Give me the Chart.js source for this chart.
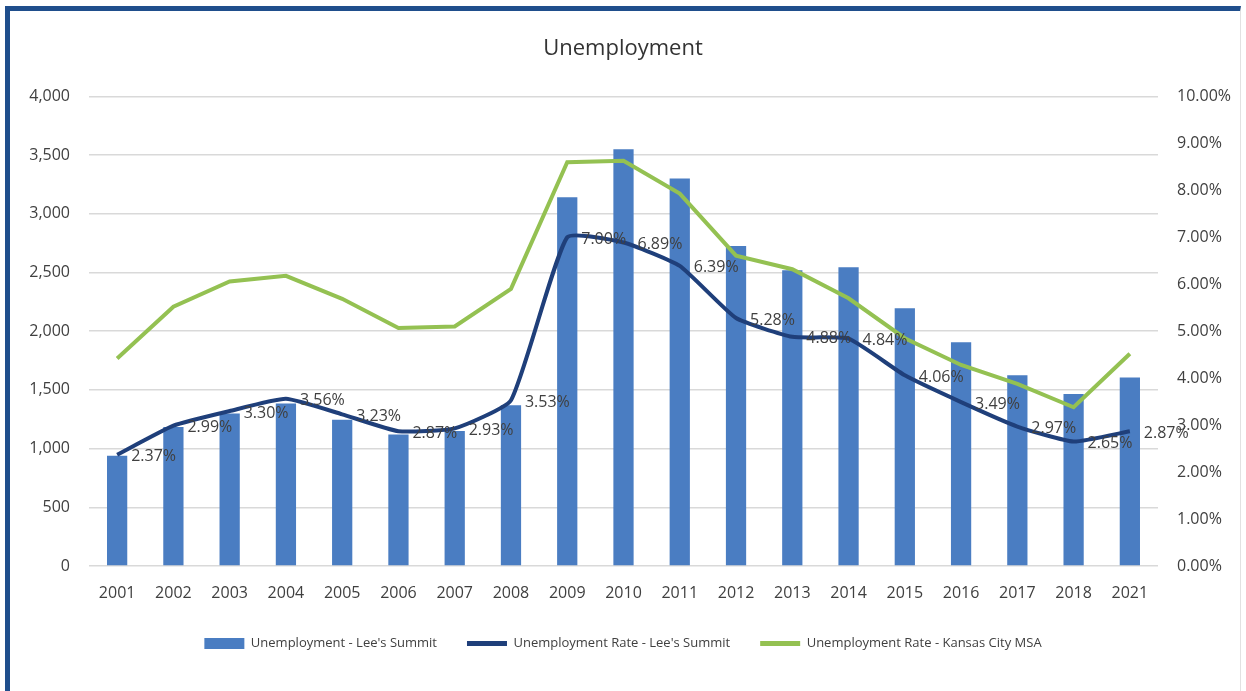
<!DOCTYPE html>
<html>
<head>
<meta charset="utf-8">
<script src="https://cdn.jsdelivr.net/npm/chart.js@4.4.0/dist/chart.umd.min.js"></script>
<style>
  html, body { margin: 0; padding: 0; background: #fff; }
  #wrap { position: relative; width: 1246px; height: 691px; overflow: hidden; }
  #frame { position: absolute; left: 5px; top: 6px; width: 1230px; height: 700px;
           border-top: 5px solid #1f4e8c; border-left: 5px solid #1f4e8c; border-right: 1px solid #e2e2e2;
           pointer-events: none; }
  canvas { position: absolute; left: 0; top: 0; }
</style>
</head>
<body>
<div id="wrap">
  <canvas id="chart" width="1246" height="691"></canvas>
  <div id="frame"></div>
</div>
<script>
const years = ['2001','2002','2003','2004','2005','2006','2007','2008','2009','2010',
               '2011','2012','2013','2014','2015','2016','2017','2018','2021'];
const unemployedLS = [940, 1185, 1300, 1385, 1245, 1120, 1150, 1370, 3140, 3550,
                      3300, 2725, 2520, 2545, 2195, 1905, 1625, 1465, 1605];
const rateLS = [2.37, 2.99, 3.30, 3.56, 3.23, 2.87, 2.93, 3.53, 7.00, 6.89,
                6.39, 5.28, 4.88, 4.84, 4.06, 3.49, 2.97, 2.65, 2.87];
const rateKC = [4.42, 5.52, 6.06, 6.18, 5.69, 5.07, 5.10, 5.90, 8.60, 8.63,
                7.93, 6.61, 6.32, 5.70, 4.85, 4.28, 3.88, 3.38, 4.52];
const leftTicks = [0, 500, 1000, 1500, 2000, 2500, 3000, 3500, 4000];
const rightTicks = [0, 1, 2, 3, 4, 5, 6, 7, 8, 9, 10];

const FONT = "'Open Sans', 'Noto Sans', sans-serif";
const TEXT = '#404040';

// draws the % labels beside the Lee's Summit rate line
const rateLabels = {
  id: 'rateLabels',
  afterDatasetsDraw(chart) {
    const meta = chart.getDatasetMeta(1);
    const ctx = chart.ctx;
    ctx.save();
    ctx.font = '16px ' + FONT;
    ctx.fillStyle = TEXT;
    ctx.textAlign = 'left';
    ctx.textBaseline = 'middle';
    meta.data.forEach((pt, i) => {
      ctx.fillText(rateLS[i].toFixed(2) + '%', pt.x + 14, pt.y + 2);
    });
    ctx.restore();
  }
};

new Chart(document.getElementById('chart'), {
  type: 'bar',
  data: {
    labels: years,
    datasets: [
      {
        type: 'bar',
        label: "Unemployment - Lee's Summit",
        data: unemployedLS,
        backgroundColor: '#4a7dc2',
        yAxisID: 'y',
        order: 3,
        categoryPercentage: 1,
        barPercentage: 0.36
      },
      {
        type: 'line',
        label: "Unemployment Rate - Lee's Summit",
        data: rateLS,
        borderColor: '#1f3f7a',
        backgroundColor: '#1f3f7a',
        borderWidth: 4,
        pointRadius: 0,
        tension: 0.15,
        yAxisID: 'y1',
        order: 1
      },
      {
        type: 'line',
        label: 'Unemployment Rate - Kansas City MSA',
        data: rateKC,
        borderColor: '#94c152',
        backgroundColor: '#94c152',
        borderWidth: 4,
        pointRadius: 0,
        tension: 0,
        yAxisID: 'y1',
        order: 2
      }
    ]
  },
  options: {
    responsive: false,
    animation: false,
    layout: { padding: { top: 18, bottom: 31, left: 0, right: 0 } },
    plugins: {
      title: {
        display: true,
        text: 'Unemployment',
        color: '#333',
        font: { family: FONT, size: 22, weight: 'normal' },
        padding: { top: 18, bottom: 34 }
      },
      legend: {
        position: 'bottom',
        labels: {
          color: TEXT,
          font: { family: FONT, size: 13 },
          usePointStyle: true,
          boxWidth: 40,
          boxHeight: 11,
          pointStyleWidth: 40,
          padding: 30,
          sort: (a, b) => a.datasetIndex - b.datasetIndex,
          generateLabels(chart) {
            return chart.data.datasets.map((ds, i) => ({
              text: ds.label,
              datasetIndex: i,
              fillStyle: ds.backgroundColor,
              strokeStyle: ds.type === 'bar' ? ds.backgroundColor : ds.borderColor,
              lineWidth: ds.type === 'bar' ? 0 : 5,
              pointStyle: ds.type === 'bar' ? 'rect' : 'line',
              fontColor: TEXT,
              hidden: false
            }));
          }
        }
      },
      tooltip: { enabled: false }
    },
    scales: {
      x: {
        grid: { display: false, drawTicks: false },
        border: { display: false },
        afterFit(axis) { axis.height = 41; },
        ticks: { color: TEXT, font: { family: FONT, size: 16 }, padding: 18, maxRotation: 0 }
      },
      y: {
        position: 'left',
        min: 0,
        max: 4000,
        afterBuildTicks(axis) { axis.ticks = leftTicks.map(v => ({ value: v })); },
        afterFit(axis) { axis.width = 89; },
        grid: { color: '#d9d9d9', lineWidth: 1.5, drawTicks: false },
        border: { display: false },
        ticks: {
          color: TEXT,
          font: { family: FONT, size: 16 },
          padding: 19,
          callback: v => v.toLocaleString('en-US')
        }
      },
      y1: {
        position: 'right',
        min: 0,
        max: 10,
        afterBuildTicks(axis) { axis.ticks = rightTicks.map(v => ({ value: v })); },
        afterFit(axis) { axis.width = 88; },
        grid: { display: false, drawTicks: false },
        border: { display: false },
        ticks: {
          color: TEXT,
          font: { family: FONT, size: 16 },
          padding: 19,
          callback: v => v.toFixed(2) + '%'
        }
      }
    }
  },
  plugins: [rateLabels]
});
</script>
</body>
</html>
